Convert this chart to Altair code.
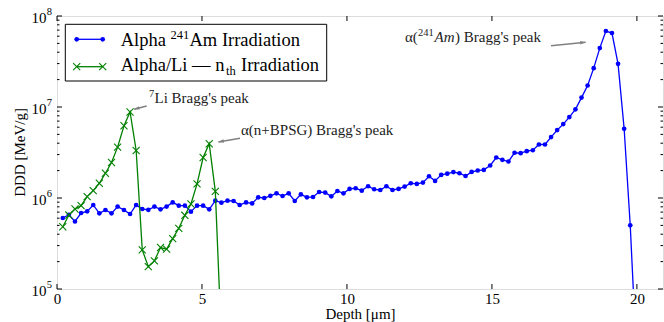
import altair as alt
import pandas as pd

# ---------------- data ----------------
depth = [0.20, 0.41, 0.62, 0.83, 1.04, 1.25, 1.46, 1.67, 1.88, 2.09,
         2.31, 2.52, 2.73, 2.94, 3.15, 3.36, 3.57, 3.78, 3.99, 4.20,
         4.41, 4.62, 4.83, 5.04, 5.25, 5.46, 5.67, 5.88, 6.09, 6.30,
         6.52, 6.73, 6.94, 7.15, 7.36, 7.57, 7.78, 7.99, 8.20, 8.41,
         8.62, 8.83, 9.04, 9.25, 9.46, 9.67, 9.88, 10.09, 10.30, 10.51,
         10.73, 10.94, 11.15, 11.36, 11.57, 11.78, 11.99, 12.20, 12.41, 12.62,
         12.83, 13.04, 13.25, 13.46, 13.67, 13.88, 14.09, 14.30, 14.51, 14.72,
         14.94, 15.15, 15.36, 15.57, 15.78, 15.99, 16.20, 16.41, 16.62, 16.83,
         17.04, 17.25, 17.46, 17.67, 17.88, 18.09, 18.30, 18.51, 18.72, 18.93,
         19.14, 19.35, 19.56, 19.77, 19.98]

am_ddd = [6.03e5, 6.55e5, 5.52e5, 6.84e5, 7.13e5, 8.38e5, 6.78e5, 7.38e5, 6.78e5, 8.04e5,
          7.38e5, 6.67e5, 8.38e5, 7.57e5, 7.41e5, 8.04e5, 7.50e5, 8.04e5, 8.95e5, 8.24e5,
          8.24e5, 7.08e5, 8.24e5, 8.24e5, 7.50e5, 9.35e5, 8.89e5, 9.35e5, 9.27e5, 8.38e5,
          8.95e5, 8.71e5, 1.016e6, 1.0e6, 1.057e6, 1.125e6, 1.052e6, 1.125e6, 9.27e5, 1.096e6,
          1.016e6, 1.026e6, 1.164e6, 1.146e6, 1.042e6, 1.194e6, 1.125e6, 1.259e6, 1.279e6, 1.205e6,
          1.346e6, 1.247e6, 1.225e6, 1.346e6, 1.225e6, 1.259e6, 1.334e6, 1.452e6, 1.429e6, 1.476e6,
          1.734e6, 1.542e6, 1.795e6, 1.849e6, 1.928e6, 1.871e6, 1.746e6, 1.936e6, 2.004e6, 2.037e6,
          2.275e6, 2.786e6, 2.624e6, 2.518e6, 3.141e6, 3.112e6, 3.273e6, 3.350e6, 3.873e6, 3.873e6,
          4.667e6, 5.572e6, 6.486e6, 7.745e6, 9.419e6, 1.268e7, 1.722e7, 2.673e7, 4.436e7, 6.839e7,
          6.501e7, 2.979e7, 5.768e6, 5.01e5, 2.0e4]

li_ddd = [4.83e5, 6.50e5, 7.57e5, 8.24e5, 1.035e6, 1.205e6, 1.452e6, 1.871e6, 2.455e6, 3.622e6,
          6.223e6, 8.81e6, 3.327e6, 2.69e5, 1.762e5, 2.037e5, 2.858e5, 2.742e5, 3.573e5, 4.645e5,
          6.457e5, 8.59e5, 1.429e6, 2.786e6, 3.945e6, 1.183e6, 2.8e4]

x_ticks = [0, 5, 10, 15, 20]
y_decades = [1e5, 1e6, 1e7, 1e8]
y_exponents = ["5", "6", "7", "8"]
y_minor = [2e5, 3e5, 4e5, 5e5, 6e5, 7e5, 8e5, 9e5,
           2e6, 3e6, 4e6, 5e6, 6e6, 7e6, 8e6, 9e6,
           2e7, 3e7, 4e7, 5e7, 6e7, 7e7, 8e7, 9e7]

# ---------------- styling ----------------
W, H = 606, 273
FONT = "Liberation Serif"
BLUE = "#0000ff"
GREEN = "#008000"
GREY = "#808080"

xscale = alt.Scale(domain=[0, 20.9], nice=False, zero=False)
yscale = alt.Scale(type="log", domain=[1e5, 1e8], nice=False)
xaxis = alt.Axis(values=x_ticks, ticks=False, tickSize=0, domain=False, grid=False,
                 labelFont=FONT, labelFontSize=15, labelColor="black", labelPadding=2,
                 labelFlush=False, title="Depth [μm]", titleFont=FONT, titleFontSize=15,
                 titleFontWeight="normal", titleColor="black", titlePadding=0)


def X():
    return alt.X("depth:Q", scale=xscale, axis=xaxis)


def Y():
    return alt.Y("ddd:Q", scale=yscale, axis=None)


df_am = pd.DataFrame({"depth": depth, "ddd": am_ddd})
df_li = pd.DataFrame({"depth": depth[:len(li_ddd)], "ddd": li_ddd})
df_xt = pd.DataFrame({"depth": x_ticks})
df_ymaj = pd.DataFrame({"ddd": y_decades, "exp": y_exponents})
df_ymin = pd.DataFrame({"ddd": y_minor})
one = pd.DataFrame({"k": [0]})

X_SHAPE = "M-1,-1L1,1M-1,1L1,-1"
HEAD = "M0,0L-0.7,2.2L0.7,2.2Z"

layers = []

# data series
layers.append(alt.Chart(df_am).mark_line(color=BLUE, strokeWidth=1.3, clip=True).encode(x=X(), y=Y()))
layers.append(alt.Chart(df_am).mark_circle(color=BLUE, size=22, opacity=1, clip=True).encode(x=X(), y=Y()))
layers.append(alt.Chart(df_li).mark_line(color=GREEN, strokeWidth=1.3, clip=True).encode(x=X(), y=Y()))
layers.append(alt.Chart(df_li).mark_point(shape=X_SHAPE, filled=False, color=GREEN, size=50,
                                          strokeWidth=1.1, opacity=1, clip=True).encode(x=X(), y=Y()))

# inward ticks
layers.append(alt.Chart(df_xt).mark_rule(color="black").encode(x=X(), y=alt.value(H), y2=alt.value(H - 5)))
layers.append(alt.Chart(df_xt).mark_rule(color="black").encode(x=X(), y=alt.value(0), y2=alt.value(5)))
layers.append(alt.Chart(df_ymaj).mark_rule(color="black").encode(y=Y(), x=alt.value(0), x2=alt.value(5)))
layers.append(alt.Chart(df_ymaj).mark_rule(color="black").encode(y=Y(), x=alt.value(W), x2=alt.value(W - 5)))
layers.append(alt.Chart(df_ymin).mark_rule(color="black").encode(y=Y(), x=alt.value(0), x2=alt.value(2.5)))
layers.append(alt.Chart(df_ymin).mark_rule(color="black").encode(y=Y(), x=alt.value(W), x2=alt.value(W - 2.5)))

# y tick labels 10^n
layers.append(alt.Chart(df_ymaj).mark_text(text="10", align="right", baseline="middle", font=FONT,
                                           fontSize=15, dy=2, color="black").encode(y=Y(), x=alt.value(-10.5)))
layers.append(alt.Chart(df_ymaj).mark_text(align="left", baseline="middle", font=FONT,
                                           fontSize=10.5, dy=-4, color="black").encode(
    y=Y(), x=alt.value(-10.3), text="exp:N"))

# y title
layers.append(alt.Chart(one).mark_text(text="DDD [MeV/g]", angle=270, align="center", baseline="middle",
                                       font=FONT, fontSize=15, color="black").encode(
    x=alt.value(-37), y=alt.value(H / 2)))


def txt(s, x, y, size=15, style="normal", color="black"):
    return alt.Chart(one).mark_text(text=s, align="left", baseline="alphabetic", font=FONT,
                                    fontSize=size, fontStyle=style, color=color).encode(
        x=alt.value(x), y=alt.value(y))


def arrow(x1, y1, x2, y2, ang):
    shaft = alt.Chart(one).mark_rule(color=GREY, strokeWidth=1.5).encode(
        x=alt.value(x1), y=alt.value(y1), x2=alt.value(x2), y2=alt.value(y2))
    head = alt.Chart(one).mark_point(shape=HEAD, filled=True, color=GREY, size=25, angle=ang,
                                     opacity=1).encode(x=alt.value(x2), y=alt.value(y2))
    return [shaft, head]


# annotations
ANN = "#222222"
layers += [txt("α(", 348, 26, color=ANN), txt("241", 361, 20, size=10.5, color=ANN),
           txt("Am", 377.5, 26, style="italic", color=ANN), txt(") Bragg's peak", 398, 26, color=ANN)]
layers += arrow(494, 29.7, 528.7, 26.3, 84.4)
layers += [txt("7", 92, 81, size=10.5, color=ANN), txt("Li Bragg's peak", 97.5, 87, color=ANN)]
layers += arrow(89.7, 90, 77, 93.3, 255.4)
layers += [txt("α(n+BPSG) Bragg's peak", 184, 119, color=ANN)]
layers += arrow(183, 122.3, 161.3, 126, 260.3)

# legend
layers.append(alt.Chart(one).mark_rect(fill="white", stroke="black", strokeWidth=1).encode(
    x=alt.value(8.3), x2=alt.value(269.7), y=alt.value(8.3), y2=alt.value(65)))
layers.append(alt.Chart(one).mark_rule(color=BLUE, strokeWidth=1.3).encode(
    x=alt.value(19.7), x2=alt.value(45.7), y=alt.value(23.3)))
for lx in (19.7, 45.7):
    layers.append(alt.Chart(one).mark_circle(color=BLUE, size=22, opacity=1).encode(
        x=alt.value(lx), y=alt.value(23.3)))
layers.append(alt.Chart(one).mark_rule(color=GREEN, strokeWidth=1.3).encode(
    x=alt.value(19.7), x2=alt.value(45.7), y=alt.value(50.7)))
for lx in (19.7, 45.7):
    layers.append(alt.Chart(one).mark_point(shape=X_SHAPE, filled=False, color=GREEN, size=50,
                                            strokeWidth=1.1, opacity=1).encode(
        x=alt.value(lx), y=alt.value(50.7)))
LS = 18.5
layers += [txt("Alpha", 63.7, 30, size=LS), txt("241", 113.5, 23, size=12.5),
           txt("Am Irradiation", 132.5, 30, size=LS)]
layers += [txt("Alpha/Li — n", 63.7, 54.7, size=LS), txt("th", 169, 58.5, size=12.5),
           txt("Irradiation", 184, 54.7, size=LS)]

chart = alt.layer(*layers).properties(
    width=W, height=H, autosize="none",
    padding={"left": 57, "top": 16, "right": 1, "bottom": 33},
).configure_view(stroke="black", strokeWidth=1).configure(background="white")

chart.save("out.html", embed_options={"renderer": "svg", "actions": False})
